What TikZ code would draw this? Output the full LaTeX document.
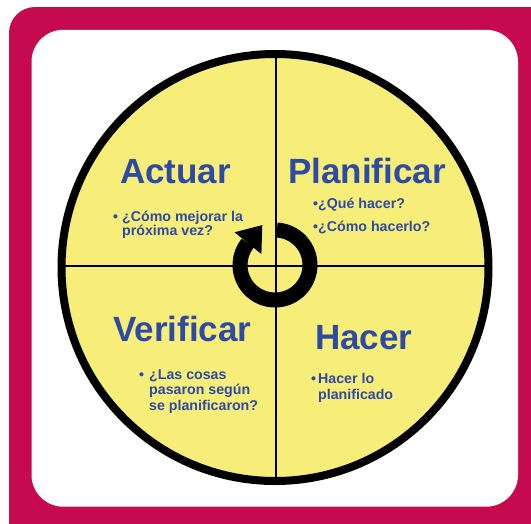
\documentclass[tikz,border=0pt]{standalone}
\usepackage{fontspec}
\setmainfont{Liberation Sans}
\usepackage{xcolor}
\usetikzlibrary{calc}

\definecolor{magenta1}{RGB}{197,10,80}
\definecolor{amarelo}{RGB}{247,238,122}
\definecolor{azul}{RGB}{45,75,165}
\newcommand{\corpo}[1]{\fontsize{14.2}{#1}\selectfont\bfseries\lineskiplimit=-20pt\relax}

\begin{document}
\begin{tikzpicture}[x=1pt,y=-1pt]
        \tikzstyle{titulo}=[anchor=base west, inner sep=0pt, text=azul, font=\fontsize{35}{40}\selectfont\bfseries]
        \tikzstyle{texto}=[anchor=base west, inner sep=0pt, text=azul, align=left, font=\corpo{15.5}]
        \tikzstyle{divisao}=[line width=1.8pt, black]

        \useasboundingbox (0,0) rectangle (531,523);
        \clip (0,0) rectangle (531,523);

        % moldura
        \fill[magenta1, rounded corners=26pt] (9,7) rectangle (560,550);
        \fill[white, rounded corners=32pt] (31.5,29.8) rectangle (518,506.7);

        % circulo
        \coordinate (centro) at (275,267.5);
        \coordinate (N) at (275.7,54);
        \coordinate (S) at (275.7,481);
        \coordinate (W) at (61,265.7);
        \coordinate (E) at (489,265.7);

        \fill[amarelo] (centro) circle (213pt);
        \draw[divisao] (N) -- (S);
        \draw[divisao] (W) -- (E);
        \draw[line width=8pt] (centro) circle (213.5pt);

        % seta circular
        \coordinate (giro) at (275,265);
        \draw[line width=15pt] ($(giro)+(-87:35)$) arc[start angle=-87, end angle=219, radius=35];
        \fill ($(giro)+(219:17.5)$) -- ($(giro)+(219:52)$) -- ($(giro)+(219:35)+(309:23)$) -- cycle;

        % titulos
        \node[titulo] (actuar) at (120,183.3) {Actuar};
        \node[titulo] (planificar) at (288,183.3) {Planificar};
        \node[titulo] (verificar) at (113,341.7) {Verificar};
        \node[titulo] (hacer) at (315,349.3) {Hacer};

        % textos (ancorados na ultima linha)
        \node[texto, font=\corpo{14}] (actuarTxt) at (122,235)
          {\llap{•\hspace{4pt}}¿Cómo mejorar la\\próxima vez?};
        \node[texto, font=\corpo{23}] (planificarTxt) at (318,231)
          {\llap{•}¿Qué hacer?\\\llap{•}¿Cómo hacerlo?};
        \node[texto] (verificarTxt) at (149,410)
          {\llap{•\hspace{5pt}}¿Las cosas\\pasaron según\\se planificaron?};
        \node[texto, font=\corpo{16}] (hacerTxt) at (318,399)
          {\llap{•\hspace{2pt}}Hacer lo\\planificado};
\end{tikzpicture}
\end{document}
